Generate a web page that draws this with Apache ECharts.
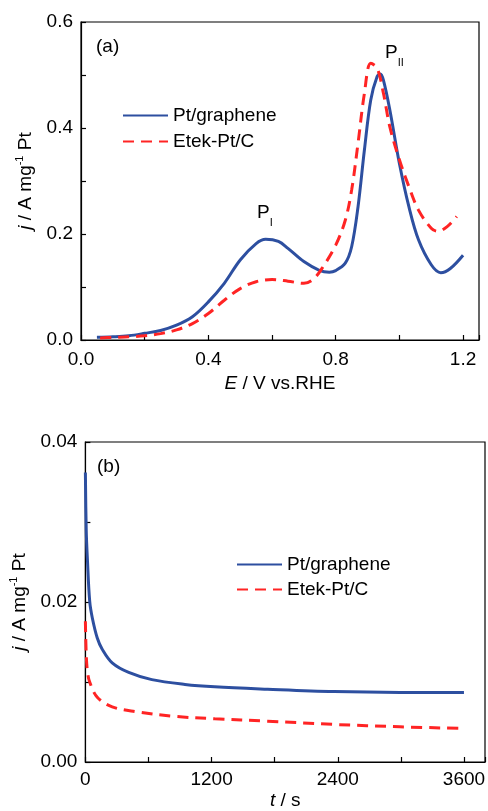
<!DOCTYPE html>
<html>
<head>
<meta charset="utf-8">
<script src="https://cdn.jsdelivr.net/npm/echarts@6/dist/echarts.min.js"></script>
<style>
  html, body { margin: 0; padding: 0; background: #fff; }
  #chart { width: 488px; height: 811px; }
</style>
</head>
<body>
<div id="chart"></div>
<script>
// (a) CV curves
const cvPotentialPtG = [0.05, 0.1, 0.15, 0.2, 0.25, 0.3, 0.35, 0.4, 0.45, 0.5, 0.55, 0.58, 0.62, 0.65, 0.7, 0.75, 0.78, 0.8, 0.83, 0.85, 0.87, 0.89, 0.91, 0.93, 0.94, 0.95, 0.97, 1.0, 1.03, 1.06, 1.1, 1.13, 1.16, 1.2]
const cvCurrentPtG = [0.005, 0.006, 0.008, 0.0126, 0.018, 0.028, 0.044, 0.072, 0.107, 0.151, 0.182, 0.190, 0.186, 0.173, 0.148, 0.131, 0.128, 0.131, 0.145, 0.176, 0.251, 0.358, 0.453, 0.497, 0.502, 0.49, 0.434, 0.333, 0.251, 0.189, 0.142, 0.127, 0.135, 0.160]
const cvPotentialEtek = [0.06, 0.1, 0.15, 0.2, 0.25, 0.3, 0.35, 0.4, 0.45, 0.5, 0.55, 0.6, 0.65, 0.7, 0.73, 0.76, 0.8, 0.83, 0.85, 0.87, 0.89, 0.91, 0.93, 0.95, 0.97, 1.0, 1.03, 1.06, 1.1, 1.12, 1.15, 1.18]
const cvCurrentEtek = [0.004, 0.005, 0.006, 0.008, 0.012, 0.019, 0.031, 0.050, 0.075, 0.097, 0.110, 0.114, 0.111, 0.107, 0.115, 0.138, 0.179, 0.226, 0.283, 0.371, 0.465, 0.522, 0.513, 0.465, 0.402, 0.34, 0.289, 0.245, 0.211, 0.205, 0.214, 0.233]

// (b) chronoamperometry
const caTimePtG = [0, 8, 19, 41, 66, 113, 160, 255, 412, 632, 947, 1230, 1733, 2362, 2991, 3600]
const caCurrentPtG = [0.0362, 0.029, 0.0254, 0.0201, 0.018, 0.0155, 0.0141, 0.0124, 0.0112, 0.0103, 0.0097, 0.0094, 0.0091, 0.0088, 0.0087, 0.0087]
const caTimeEtek = [0, 8, 19, 41, 113, 255, 475, 853, 1230, 1733, 2362, 2991, 3570]
const caCurrentEtek = [0.0176, 0.0135, 0.0114, 0.0100, 0.0081, 0.0069, 0.0063, 0.0057, 0.0054, 0.0051, 0.0047, 0.0044, 0.0042]

const seriesNames = ['Pt/graphene', 'Etek-Pt/C']
const xTicksA = [0, 0.4, 0.8, 1.2]
const yTicksA = [0, 0.2, 0.4, 0.6]
const xTicksB = [0, 1200, 2400, 3600]
const yTicksB = [0, 0.02, 0.04]

const BLUE = '#2d4fa0'
const RED = '#ff2424'
const FONT = 'Liberation Sans, Arial, sans-serif'
const FS = 19

const pairs = (xs, ys) => xs.map((x, i) => [x, ys[i]])
const near = (v, list) => list.some(t => Math.abs(v - t) < 1e-9)

const chart = echarts.init(document.getElementById('chart'))

const axisCommon = {
  axisLine: { show: true, lineStyle: { color: '#000', width: 1.2 } },
  axisTick: { show: true, inside: true, length: 5, lineStyle: { color: '#000', width: 1.2 } },
  splitLine: { show: false },
  axisLabel: { color: '#000', fontSize: FS, fontFamily: FONT, margin: 8 },
  nameLocation: 'middle',
  nameTextStyle: {
    color: '#000', fontSize: FS, fontFamily: FONT,
    rich: {
      i: { fontStyle: 'italic', fontSize: FS, fontFamily: FONT, color: '#000' },
      sup: { fontSize: 11, fontFamily: FONT, color: '#000', verticalAlign: 'top', lineHeight: 24 }
    }
  }
}

const yName = '{i|j} / A mg{sup|-1} Pt'

const legendCommon = {
  data: seriesNames, orient: 'vertical', padding: 0,
  itemWidth: 45, itemHeight: 14,
  itemStyle: { opacity: 0, borderWidth: 0 },
  textStyle: { fontSize: FS, color: '#000', fontFamily: FONT },
  selectedMode: false
}

const lineOpts = (color, dashed) => ({
  type: 'line', smooth: 0.35, showSymbol: false, symbol: 'none',
  lineStyle: { color: color, width: 3, type: dashed ? [11, 7] : 'solid' },
  itemStyle: { color: color }
})

chart.setOption({
  animation: false,
  textStyle: { fontFamily: FONT },
  grid: [
    { left: 81, top: 22, width: 398, height: 318, show: true, borderColor: '#000', borderWidth: 1.2 },
    { left: 83, top: 442, width: 403, height: 324, show: true, borderColor: '#000', borderWidth: 1.2 }
  ],
  xAxis: [
    Object.assign({}, axisCommon, {
      type: 'value', gridIndex: 0, min: 0, max: 1.25, interval: 0.2,
      name: '{i|E} / V vs.RHE', nameGap: 34,
      axisLabel: Object.assign({}, axisCommon.axisLabel, {
        margin: 10,
        formatter: v => near(v, xTicksA) ? v.toFixed(1) : ''
      })
    }),
    Object.assign({}, axisCommon, {
      type: 'value', gridIndex: 1, min: 0, max: 3800, interval: 600,
      name: '{i|t} / s', nameGap: 29,
      axisLabel: Object.assign({}, axisCommon.axisLabel, {
        formatter: v => near(v, xTicksB) ? String(v) : ''
      })
    })
  ],
  yAxis: [
    Object.assign({}, axisCommon, {
      type: 'value', gridIndex: 0, min: 0, max: 0.6, interval: 0.1,
      name: yName, nameGap: 42, nameRotate: 90,
      axisLabel: Object.assign({}, axisCommon.axisLabel, {
        formatter: v => near(v, yTicksA) ? v.toFixed(1) : ''
      })
    }),
    Object.assign({}, axisCommon, {
      type: 'value', gridIndex: 1, min: 0, max: 0.04, interval: 0.01,
      name: yName, nameGap: 48, nameRotate: 90,
      axisLabel: Object.assign({}, axisCommon.axisLabel, {
        formatter: v => near(v, yTicksB) ? v.toFixed(2) : ''
      })
    })
  ],
  legend: [
    Object.assign({}, legendCommon, { left: 122, top: 106, itemGap: 7 }),
    Object.assign({}, legendCommon, { left: 236, top: 555, itemGap: 6 })
  ],
  series: [
    Object.assign(lineOpts(BLUE, false), { name: seriesNames[0], xAxisIndex: 0, yAxisIndex: 0, data: pairs(cvPotentialPtG, cvCurrentPtG) }),
    Object.assign(lineOpts(RED, true), { name: seriesNames[1], xAxisIndex: 0, yAxisIndex: 0, data: pairs(cvPotentialEtek, cvCurrentEtek) }),
    Object.assign(lineOpts(BLUE, false), { name: seriesNames[0], xAxisIndex: 1, yAxisIndex: 1, data: pairs(caTimePtG, caCurrentPtG) }),
    Object.assign(lineOpts(RED, true), { name: seriesNames[1], xAxisIndex: 1, yAxisIndex: 1, data: pairs(caTimeEtek, caCurrentEtek) })
  ],
  graphic: [
    { type: 'text', left: 96, top: 37, style: { text: '(a)', fontSize: FS, fontFamily: FONT, fill: '#000' } },
    { type: 'text', left: 97, top: 457, style: { text: '(b)', fontSize: FS, fontFamily: FONT, fill: '#000' } },
    {
      type: 'text', left: 257, top: 203,
      style: {
        text: '{p|P}{s|I}', fill: '#000',
        rich: {
          p: { fontSize: FS, fontFamily: FONT, lineHeight: 25, verticalAlign: 'top' },
          s: { fontSize: 11, fontFamily: FONT, lineHeight: 25, verticalAlign: 'bottom' }
        }
      }
    },
    {
      type: 'text', left: 385, top: 43,
      style: {
        text: '{p|P}{s|II}', fill: '#000',
        rich: {
          p: { fontSize: FS, fontFamily: FONT, lineHeight: 25, verticalAlign: 'top' },
          s: { fontSize: 11, fontFamily: FONT, lineHeight: 25, verticalAlign: 'bottom' }
        }
      }
    }
  ]
})
</script>
</body>
</html>
